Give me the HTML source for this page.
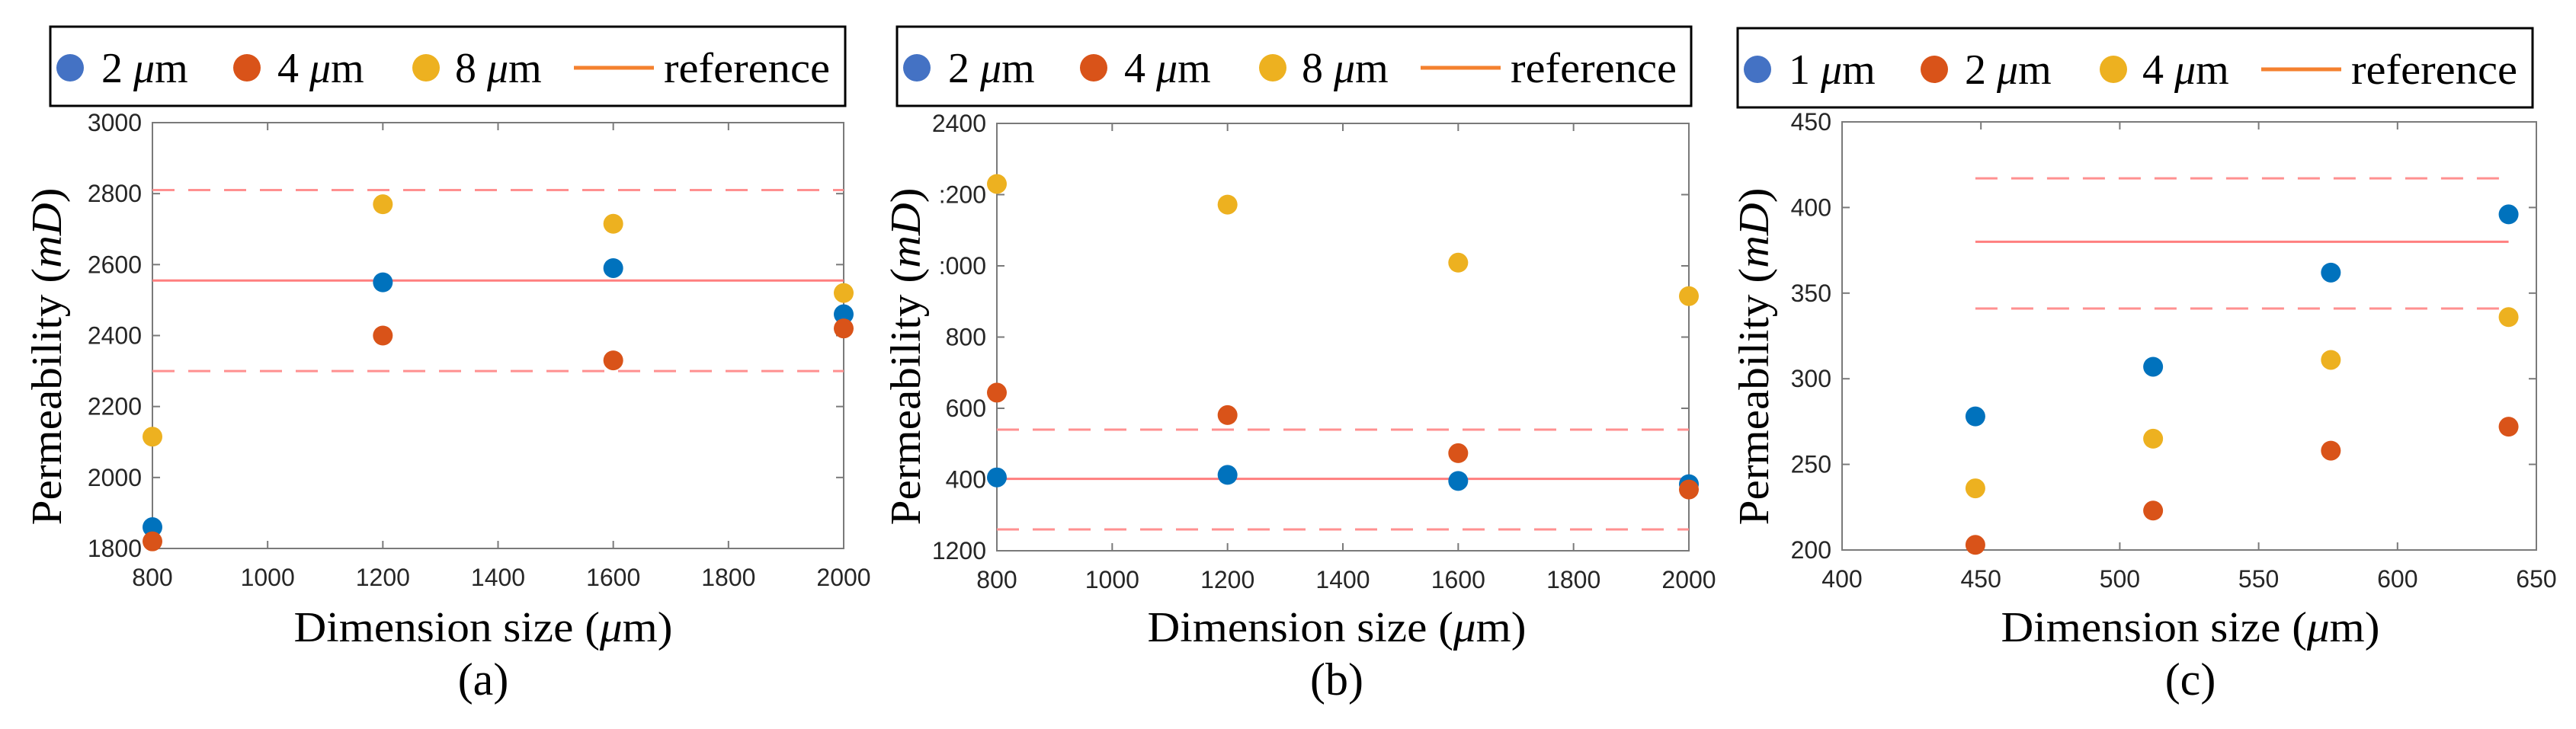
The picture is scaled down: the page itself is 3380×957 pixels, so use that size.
<!DOCTYPE html>
<html><head><meta charset="utf-8"><style>
html,body{margin:0;padding:0;background:#fff;}
svg{display:block;}
</style></head><body>
<svg id="fig" width="3380" height="957" viewBox="0 0 3380 957" xmlns="http://www.w3.org/2000/svg"></svg>
<script>
// ---- Panel (a) data ----
const aX = [800, 1200, 1600, 2000];
const aS1 = [1860, 2550, 2590, 2460];
const aS2 = [1820, 2400, 2330, 2420];
const aS3 = [2115, 2770, 2715, 2520];
const aRef = [2555, 2810, 2300];
const aXTicks = [800, 1000, 1200, 1400, 1600, 1800, 2000];
const aYTicks = [1800, 2000, 2200, 2400, 2600, 2800, 3000];
const aYLabels = ["1800", "2000", "2200", "2400", "2600", "2800", "3000"];
const aLegend = ["2", "4", "8", "reference"];
// ---- Panel (b) data ----
const bX = [800, 1200, 1600, 2000];
const bS1 = [1406, 1413, 1396, 1387];
const bS2 = [1644, 1581, 1474, 1372];
const bS3 = [2230, 2172, 2009, 1915];
const bRef = [1402, 1540, 1260];
const bXTicks = [800, 1000, 1200, 1400, 1600, 1800, 2000];
const bYTicks = [1200, 1400, 1600, 1800, 2000, 2200, 2400];
const bYLabels = ["1200", "400", "600", "800", ":000", ":200", "2400"];
const bLegend = ["2", "4", "8", "reference"];
// ---- Panel (c) data ----
const cX = [448, 512, 576, 640];
const cS1 = [278, 307, 362, 396];
const cS2 = [203, 223, 258, 272];
const cS3 = [236, 265, 311, 336];
const cRef = [380, 417, 341];
const cXTicks = [400, 450, 500, 550, 600, 650];
const cYTicks = [200, 250, 300, 350, 400, 450];
const cYLabels = ["200", "250", "300", "350", "400", "450"];
const cLegend = ["1", "2", "4", "reference"];

const NS = "http://www.w3.org/2000/svg";
const svg = document.getElementById("fig");
function mk(tag, attrs, parent, text) {
  const e = document.createElementNS(NS, tag);
  for (const k in attrs) e.setAttribute(k, attrs[k]);
  if (text !== undefined) e.textContent = text;
  (parent || svg).appendChild(e);
  return e;
}
const COLORS = ["#0072BD", "#D95319", "#EDB120"];
const LEGCOLORS = ["#4472C4", "#D95319", "#EDB120"];

function panel(o) {
  const g = mk("g", {});
  
  
  const L = o.left, R = o.right, T = o.top, B = o.bottom;
  const sx = v => L + (v - o.xmin) / (o.xmax - o.xmin) * (R - L);
  const sy = v => B - (v - o.ymin) / (o.ymax - o.ymin) * (B - T);
  const lg = mk("g", {}, g);
  
  
  mk("rect", {x: o.legX, y: o.legY, width: o.legW, height: 104, fill: "#fff", stroke: "#000", "stroke-width": 3}, lg);
  const cy = o.legY + 54;
  const mOff = [26, 258, 493];
  const tOff = [67, 298, 531];
  for (let i = 0; i < 3; i++) {
    const ent = mk("g", {}, lg);
    
    
    mk("circle", {cx: o.legX + mOff[i], cy: cy, r: 18, fill: LEGCOLORS[i]}, ent);
    const t = mk("text", {x: o.legX + tOff[i], y: cy + 19, "font-family": "Liberation Serif, serif", "font-size": 56, fill: "#000"}, ent);
    mk("tspan", {}, t, o.legend[i] + " ");
    mk("tspan", {"font-style": "italic"}, t, "\u03bc");
    mk("tspan", {}, t, "m");
  }
  const re = mk("g", {}, lg);
  
  
  mk("line", {x1: o.legX + 687, x2: o.legX + 792, y1: cy, y2: cy, stroke: "#F4812F", "stroke-width": 5}, re);
  mk("text", {x: o.legX + 805, y: cy + 19, "font-family": "Liberation Serif, serif", "font-size": 56, fill: "#000", textLength: 218, lengthAdjust: "spacingAndGlyphs"}, re, o.legend[3]);
  const box = mk("rect", {x: L, y: T, width: R - L, height: B - T, fill: "none", stroke: "#7a7a7a", "stroke-width": 2}, g);
  
  
  o.xTicks.forEach(v => {
    const x = sx(v);
    mk("line", {x1: x, x2: x, y1: B, y2: B - 10, stroke: "#7a7a7a", "stroke-width": 2}, g);
    mk("line", {x1: x, x2: x, y1: T, y2: T + 10, stroke: "#7a7a7a", "stroke-width": 2}, g);
    const t = mk("text", {x: x, y: B + 49, "text-anchor": "middle", "font-family": "Liberation Sans, sans-serif", "font-size": 32, fill: "#262626"}, g, String(v));
    
    
  });
  o.yTicks.forEach((v, i) => {
    const y = sy(v);
    mk("line", {x1: L, x2: L + 10, y1: y, y2: y, stroke: "#7a7a7a", "stroke-width": 2}, g);
    mk("line", {x1: R, x2: R - 10, y1: y, y2: y, stroke: "#7a7a7a", "stroke-width": 2}, g);
    const t = mk("text", {x: L - 14, y: y + 11, "text-anchor": "end", "font-family": "Liberation Sans, sans-serif", "font-size": 32, fill: "#262626"}, g, o.yLabels[i]);
    
    
  });
  const rx1 = sx(o.refX[0]), rx2 = sx(o.refX[1]);
  const rl = mk("line", {x1: rx1, x2: rx2, y1: sy(o.ref[0]), y2: sy(o.ref[0]), stroke: "#FF7F7F", "stroke-width": 3}, g);
  
  
  [1, 2].forEach(k => {
    const d = mk("line", {x1: rx1, x2: rx2, y1: sy(o.ref[k]), y2: sy(o.ref[k]), stroke: "#FF9090", "stroke-width": 3, "stroke-dasharray": "29 18"}, g);
    
    
  });
  o.series.forEach((s, si) => {
    s.forEach((v, i) => {
      const p = mk("circle", {cx: sx(o.x[i]), cy: sy(v), r: 13, fill: COLORS[si]}, g);
      
      
    });
  });
  const xt = mk("text", {x: o.xlabX, y: 842, "text-anchor": "middle", "font-family": "Liberation Serif, serif", "font-size": 56, fill: "#000", textLength: 497, lengthAdjust: "spacingAndGlyphs"}, g);
  
  
  mk("tspan", {}, xt, "Dimension size (");
  mk("tspan", {"font-style": "italic"}, xt, "\u03bc");
  mk("tspan", {}, xt, "m)");
  const yt = mk("text", {x: 0, y: 0, "text-anchor": "middle", "font-family": "Liberation Serif, serif", "font-size": 56, fill: "#000", transform: "translate(" + o.ylabX + ",468) rotate(-90)", textLength: 443, lengthAdjust: "spacingAndGlyphs"}, g);
  
  
  mk("tspan", {}, yt, "Permeability (");
  mk("tspan", {"font-style": "italic"}, yt, "mD");
  mk("tspan", {}, yt, ")");
  const cap = mk("text", {x: o.xlabX, y: 912, "text-anchor": "middle", "font-family": "Liberation Serif, serif", "font-size": 60, fill: "#000"}, g, "(" + o.id + ")");
  
  
}

panel({id: "a", left: 200, right: 1107, top: 161, bottom: 720, xmin: 800, xmax: 2000, ymin: 1800, ymax: 3000,
  x: aX, series: [aS1, aS2, aS3], ref: aRef, refX: [800, 2000], xTicks: aXTicks, yTicks: aYTicks, yLabels: aYLabels,
  legend: aLegend, legX: 66, legY: 35, legW: 1043, xlabX: 634, ylabX: 80});
panel({id: "b", left: 1308, right: 2216, top: 162, bottom: 723, xmin: 800, xmax: 2000, ymin: 1200, ymax: 2400,
  x: bX, series: [bS1, bS2, bS3], ref: bRef, refX: [800, 2000], xTicks: bXTicks, yTicks: bYTicks, yLabels: bYLabels,
  legend: bLegend, legX: 1177, legY: 35, legW: 1042, xlabX: 1754, ylabX: 1207});
panel({id: "c", left: 2417, right: 3328, top: 160, bottom: 722, xmin: 400, xmax: 650, ymin: 200, ymax: 450,
  x: cX, series: [cS1, cS2, cS3], ref: cRef, refX: [448, 640], xTicks: cXTicks, yTicks: cYTicks, yLabels: cYLabels,
  legend: cLegend, legX: 2280, legY: 37, legW: 1043, xlabX: 2874, ylabX: 2320});
</script>
</body></html>
